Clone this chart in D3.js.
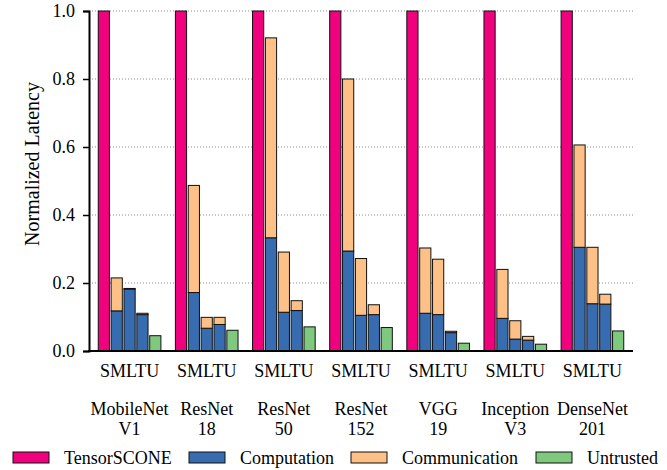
<!DOCTYPE html>
<html>
<head>
<meta charset="utf-8">
<script src="https://cdn.jsdelivr.net/npm/d3@7"></script>
<style>
  body { margin: 0; background: #fff; }
  svg text { font-family: "Liberation Serif", "Times New Roman", "DejaVu Serif", serif; fill: #000; }
</style>
</head>
<body>
<svg id="chart" width="667" height="470"></svg>
<script>
// data
const models = ["MobileNet\nV1", "ResNet\n18", "ResNet\n50", "ResNet\n152", "VGG\n19", "Inception\nV3", "DenseNet\n201"];
const barKeys = ["T", "S", "M", "L", "U"];
const tensorScone = [1, 1, 1, 1, 1, 1, 1];
// computation / communication for the S, M, L bars
const compS = [0.118, 0.172, 0.333, 0.294, 0.111, 0.096, 0.305];
const commS = [0.097, 0.315, 0.588, 0.506, 0.192, 0.144, 0.301];
const compM = [0.182, 0.067, 0.114, 0.105, 0.107, 0.035, 0.139];
const commM = [0.002, 0.032, 0.177, 0.167, 0.163, 0.054, 0.166];
const compL = [0.107, 0.078, 0.119, 0.107, 0.054, 0.032, 0.138];
const commL = [0.004, 0.021, 0.029, 0.029, 0.004, 0.011, 0.029];
const untrusted = [0.045, 0.061, 0.071, 0.069, 0.023, 0.020, 0.059];
const yTicks = [0, 0.2, 0.4, 0.6, 0.8, 1.0];
const legendNames = ["TensorSCONE", "Computation", "Communication", "Untrusted"];

const colors = {
  TensorSCONE: "#f0027f",
  Computation: "#386cb0",
  Communication: "#fdc086",
  Untrusted: "#7fc97f"
};

const font = "'Liberation Serif', 'Times New Roman', serif";

const svg = d3.select("#chart")
  .attr("font-family", font);
const margin = { left: 89, right: 34, top: 11, bottom: 119 };
const width = +svg.attr("width");
const height = +svg.attr("height");
const innerHeight = height - margin.top - margin.bottom;

const x0 = d3.scaleBand()
  .domain(models)
  .range([margin.left, width - margin.right])
  .paddingInner(0.178)
  .paddingOuter(0.115);

const x1 = d3.scaleBand()
  .domain(barKeys)
  .range([0, x0.bandwidth()])
  .paddingInner(0.13)
  .paddingOuter(0.03);

const y = d3.scaleLinear()
  .domain([0, 1])
  .range([margin.top + innerHeight, margin.top]);

// dotted grid
svg.append("g")
  .selectAll("line")
  .data(yTicks.filter(d => d > 0))
  .join("line")
    .attr("x1", margin.left)
    .attr("x2", width - margin.right)
    .attr("y1", d => y(d))
    .attr("y2", d => y(d))
    .attr("stroke", "#888")
    .attr("stroke-width", 1)
    .attr("stroke-dasharray", "1,2");

// build bar rectangles
const rects = [];
models.forEach((m, i) => {
  rects.push({ m, k: "T", y0: 0, y1: tensorScone[i], c: colors.TensorSCONE });
  [["S", compS, commS], ["M", compM, commM], ["L", compL, commL]].forEach(([k, comp, comm]) => {
    rects.push({ m, k, y0: 0, y1: comp[i], c: colors.Computation });
    rects.push({ m, k, y0: comp[i], y1: comp[i] + comm[i], c: colors.Communication });
  });
  rects.push({ m, k: "U", y0: 0, y1: untrusted[i], c: colors.Untrusted });
});

svg.append("g")
  .selectAll("rect")
  .data(rects)
  .join("rect")
    .attr("x", d => x0(d.m) + x1(d.k))
    .attr("width", x1.bandwidth())
    .attr("y", d => y(d.y1))
    .attr("height", d => y(d.y0) - y(d.y1))
    .attr("fill", d => d.c)
    .attr("stroke", "#111")
    .attr("stroke-width", 1);

// y axis
const yAxis = svg.append("g")
  .attr("transform", "translate(" + margin.left + ",0)")
  .call(d3.axisLeft(y).tickValues(yTicks).tickFormat(d3.format(".1f")).tickSize(6).tickPadding(8));
yAxis.attr("font-family", font).attr("font-size", 18);
yAxis.select(".domain").attr("stroke-width", 2);
yAxis.selectAll(".tick line").attr("stroke-width", 1.5);

// bottom axis line
svg.append("line")
  .attr("x1", margin.left - 1)
  .attr("x2", width - margin.right)
  .attr("y1", y(0))
  .attr("y2", y(0))
  .attr("stroke", "#000")
  .attr("stroke-width", 2);

svg.append("text")
  .attr("transform", "translate(39,164) rotate(-90)")
  .attr("text-anchor", "middle")
  .attr("font-size", 20)
  .text("Normalized Latency");

// bar letters and group names
const groups = svg.append("g")
  .selectAll("g")
  .data(models)
  .join("g")
    .attr("transform", d => "translate(" + (x0(d) + x0.bandwidth() / 2) + ",0)");

groups.append("text")
  .attr("y", 377)
  .attr("text-anchor", "middle")
  .attr("font-size", 18)
  .text("SMLTU");

groups.append("text")
  .attr("text-anchor", "middle")
  .attr("font-size", 18)
  .selectAll("tspan")
  .data(d => d.split("\n"))
  .join("tspan")
    .attr("x", 0)
    .attr("y", (d, i) => 415 + i * 20)
    .text(d => d);

// legend
const legendX = [13, 189, 351, 536];
const legend = svg.append("g")
  .selectAll("g")
  .data(legendNames)
  .join("g")
    .attr("transform", (d, i) => "translate(" + legendX[i] + ",452)");

legend.append("rect")
  .attr("width", 36)
  .attr("height", 11)
  .attr("fill", d => colors[d])
  .attr("stroke", "#111")
  .attr("stroke-width", 1);

legend.append("text")
  .attr("x", 51)
  .attr("y", 12)
  .attr("font-size", 18)
  .text(d => d);
</script>
</body>
</html>
